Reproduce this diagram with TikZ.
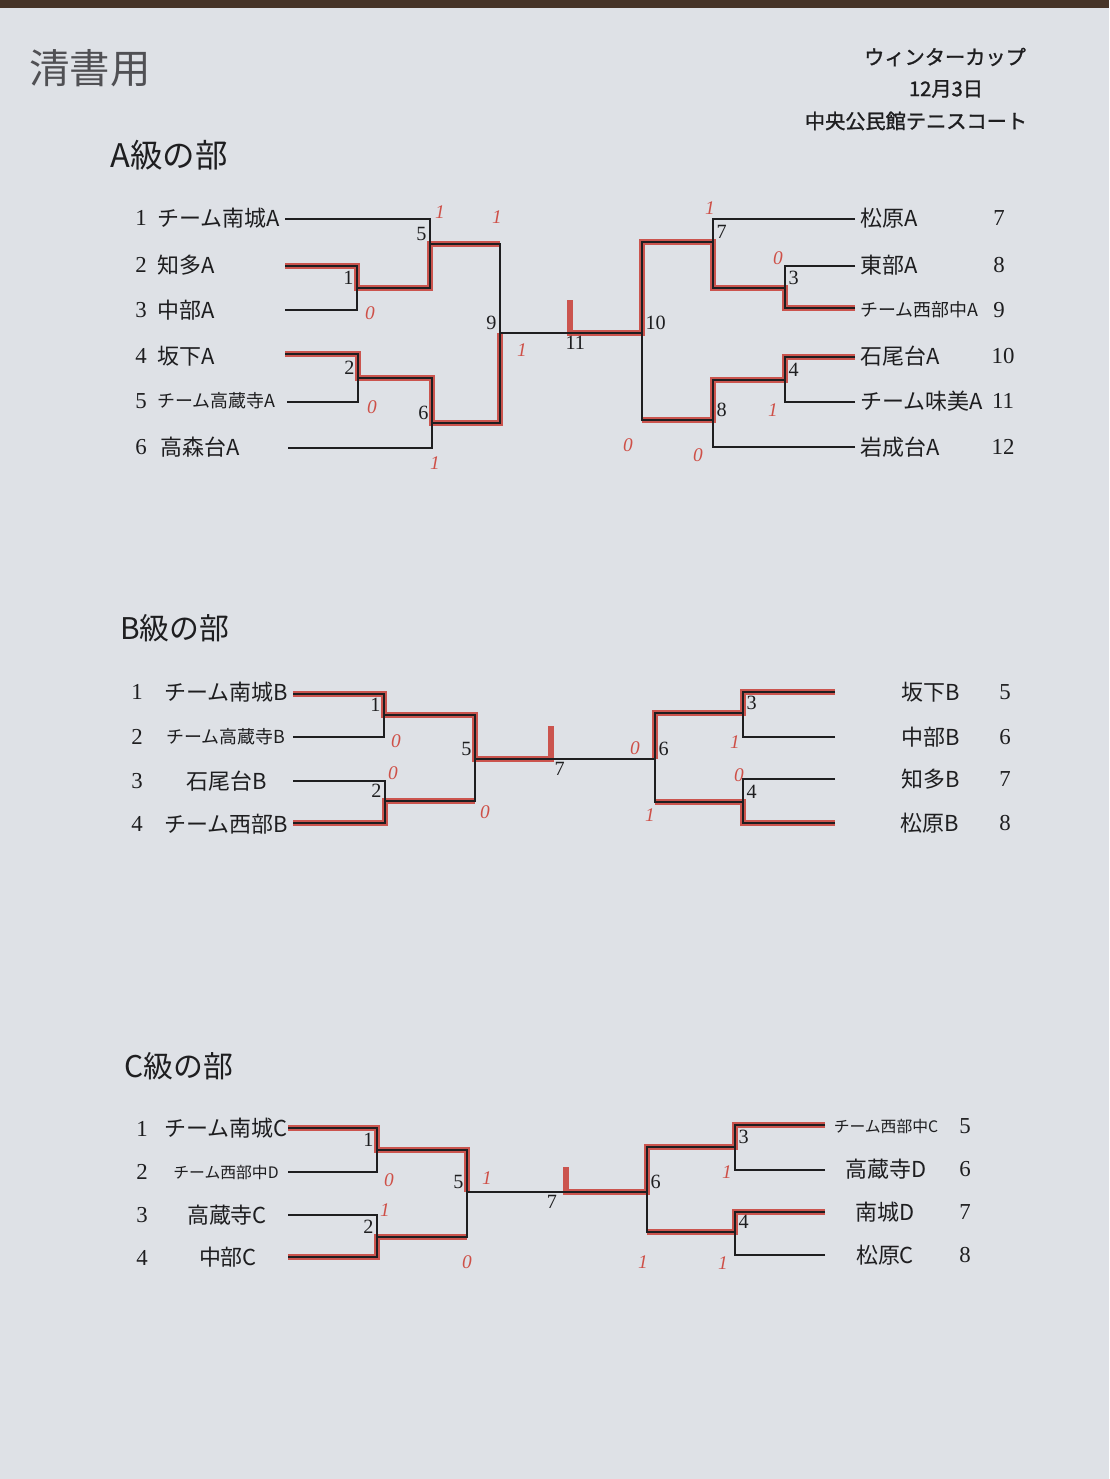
\documentclass[tikz,border=0pt]{standalone}
\usepackage{fontspec}
\setmainfont{Liberation Serif}
\newfontfamily\jp[AutoFakeBold=1.2]{Noto Sans CJK JP}
\usetikzlibrary{positioning}
\definecolor{paper}{RGB}{222,225,230}
\definecolor{board}{RGB}{70,52,40}
\definecolor{ink}{RGB}{30,30,32}
\definecolor{pen}{RGB}{200,60,52}
\definecolor{pencil}{RGB}{80,80,84}
\tikzstyle{team} = [inner sep=0pt, text=ink, font=\jp\fontsize{12.5}{14}\selectfont]
\tikzstyle{smallteam} = [team, font=\jp\fontsize{10.2}{12}\selectfont]
\tikzstyle{tinyteam} = [team, font=\jp\fontsize{9}{11}\selectfont]
\tikzstyle{seed} = [inner sep=0pt, text=ink, font=\fontsize{13}{15}\selectfont]
\tikzstyle{mlabel} = [inner sep=1.8pt, text=ink, font=\fontsize{11.5}{13}\selectfont]
\tikzstyle{heading} = [inner sep=0pt, anchor=west, text=ink, font=\jp\fontsize{17}{20}\selectfont]
\tikzstyle{info} = [inner sep=0pt, text=ink, font=\jp\bfseries\fontsize{11.5}{13}\selectfont]
\tikzstyle{score} = [inner sep=0pt, text=pen!90, font=\itshape\fontsize{11}{13}\selectfont]
\tikzstyle{line} = [draw=ink, line width=0.9pt]
\tikzstyle{win} = [draw=pen, line width=3.4pt, opacity=0.85]

\begin{document}
\begin{tikzpicture}[x=0.02cm, y=-0.02cm]
    \useasboundingbox (0,0) rectangle (1109,1479);
    \fill[paper] (0,0) rectangle (1109,1479);
    \fill[board] (0,0) rectangle (1109,8);

    % header
    \node[inner sep=0pt, text=pencil, font=\jp\fontsize{23}{26}\selectfont] (draft) at (90,68) {清書用};
    \node[info] (cup) at (945,57) {ウィンターカップ};
    \node[info] (date) at (946,89) {12月3日};
    \node[info] (court) at (916,121) {中央公民館テニスコート};

    % ---------- A ----------
    \node[heading, font=\jp\fontsize{18.5}{21}\selectfont] (headA) at (110,155) {A級の部};
    \coordinate (A1) at (285,219);  \coordinate (A2) at (285,266);
    \coordinate (A3) at (285,310);  \coordinate (A4) at (285,354);
    \coordinate (A5) at (287,402);  \coordinate (A6) at (288,448);
    \coordinate (A7) at (855,219);  \coordinate (A8) at (855,266);
    \coordinate (A9) at (855,308);  \coordinate (A10) at (855,357);
    \coordinate (A11) at (855,402); \coordinate (A12) at (855,447);
    \coordinate (Am1) at (357,288); \coordinate (Am2) at (358,378);
    \coordinate (Am5) at (430,244); \coordinate (Am6) at (432,423);
    \coordinate (Am9) at (500,333); \coordinate (Am11) at (570,333);
    \coordinate (Am10) at (642,333);
    \coordinate (Am3) at (785,288); \coordinate (Am4) at (785,380);
    \coordinate (Am7) at (713,242); \coordinate (Am8) at (713,420);

    \draw[win] (A2) -| (Am1) -| (Am5) -- (Am5 -| Am9);
    \draw[win] (A4) -| (Am2) -| (Am6) -| (Am9);
    \draw[win] (A9) -| (Am3) -| (Am7) -| (Am10) -- (Am11) -- ++(0,-33);
    \draw[win] (A10) -| (Am4) -| (Am8) -- (Am8 -| Am10);

    \foreach \a/\b in {A2/Am1, A3/Am1, A1/Am5, Am1/Am5, A4/Am2, A5/Am2, A6/Am6, Am2/Am6,
                       Am5/Am9, Am6/Am9, A8/Am3, A9/Am3, A7/Am7, Am3/Am7, A10/Am4, A11/Am4,
                       A12/Am8, Am4/Am8, Am7/Am10, Am8/Am10}
        \draw[line] (\a) -| (\b);
    \draw[line] (Am9) -- (Am10);

    \node[mlabel, anchor=south east] (lA1) at (Am1) {1};
    \node[mlabel, anchor=south east] (lA2) at (Am2) {2};
    \node[mlabel, anchor=south east] (lA5) at (Am5) {5};
    \node[mlabel, anchor=south east] (lA6) at (Am6) {6};
    \node[mlabel, anchor=south east] (lA9) at (Am9) {9};
    \node[mlabel, anchor=north] (lA11) at ([xshift=3]Am11) {11};
    \node[mlabel, anchor=south west] (lA10) at (Am10) {10};
    \node[mlabel, anchor=south west] (lA7) at (Am7) {7};
    \node[mlabel, anchor=south west] (lA3) at (Am3) {3};
    \node[mlabel, anchor=south west] (lA4) at (Am4) {4};
    \node[mlabel, anchor=south west] (lA8) at (Am8) {8};

    \foreach \n/\y in {1/218, 2/265, 3/310, 4/356, 5/401, 6/447}
        \node[seed] (sA\n) at (141,\y) {\n};
    \node[team, anchor=west] (nA1) at (157,218) {チーム南城A};
    \node[team, anchor=west] (nA2) at (157,265) {知多A};
    \node[team, anchor=west] (nA3) at (157,310) {中部A};
    \node[team, anchor=west] (nA4) at (157,356) {坂下A};
    \node[smallteam, anchor=west] (nA5) at (157,401) {チーム高蔵寺A};
    \node[team, anchor=west] (nA6) at (160,447) {高森台A};
    \node[team, anchor=west] (nA7) at (860,218) {松原A};
    \node[team, anchor=west] (nA8) at (860,265) {東部A};
    \node[smallteam, anchor=west] (nA9) at (860,310) {チーム西部中A};
    \node[team, anchor=west] (nA10) at (860,356) {石尾台A};
    \node[team, anchor=west] (nA11) at (860,401) {チーム味美A};
    \node[team, anchor=west] (nA12) at (860,447) {岩成台A};
    \foreach \n/\y in {7/218, 8/265, 9/310}
        \node[seed] (sA\n) at (999,\y) {\n};
    \foreach \n/\y in {10/356, 11/401, 12/447}
        \node[seed] (sA\n) at (1003,\y) {\n};

    % ---------- B ----------
    \node[heading] (headB) at (120,628) {B級の部};
    \coordinate (B1) at (293,694); \coordinate (B2) at (293,737);
    \coordinate (B3) at (293,781); \coordinate (B4) at (293,823);
    \coordinate (B5) at (835,692); \coordinate (B6) at (835,737);
    \coordinate (B7) at (835,779); \coordinate (B8) at (835,823);
    \coordinate (Bm1) at (384,715); \coordinate (Bm2) at (385,801);
    \coordinate (Bm5) at (475,759); \coordinate (Bm7) at (551,759);
    \coordinate (Bm6) at (655,759);
    \coordinate (Bm3) at (743,713); \coordinate (Bm4) at (743,802);

    \draw[win] (B1) -| (Bm1) -| (Bm5) -- (Bm7) -- ++(0,-33);
    \draw[win] (B4) -| (Bm2) -- (Bm2 -| Bm5);
    \draw[win] (B5) -| (Bm3) -| (Bm6);
    \draw[win] (B8) -| (Bm4) -- (Bm4 -| Bm6);

    \foreach \a/\b in {B1/Bm1, B2/Bm1, B3/Bm2, B4/Bm2, Bm1/Bm5, Bm2/Bm5,
                       B5/Bm3, B6/Bm3, B7/Bm4, B8/Bm4, Bm3/Bm6, Bm4/Bm6}
        \draw[line] (\a) -| (\b);
    \draw[line] (Bm5) -- (Bm6);

    \node[mlabel, anchor=south east] (lB1) at (Bm1) {1};
    \node[mlabel, anchor=south east] (lB2) at (Bm2) {2};
    \node[mlabel, anchor=south east] (lB5) at (Bm5) {5};
    \node[mlabel, anchor=north] (lB7) at ([xshift=5]Bm7) {7};
    \node[mlabel, anchor=south west] (lB6) at (Bm6) {6};
    \node[mlabel, anchor=south west] (lB3) at (Bm3) {3};
    \node[mlabel, anchor=south west] (lB4) at (Bm4) {4};

    \foreach \n/\y in {1/692, 2/737, 3/781, 4/824}
        \node[seed] (sB\n) at (137,\y) {\n};
    \node[team] (nB1) at (226,692) {チーム南城B};
    \node[smallteam] (nB2) at (226,737) {チーム高蔵寺B};
    \node[team] (nB3) at (227,781) {石尾台B};
    \node[team] (nB4) at (226,824) {チーム西部B};
    \node[team] (nB5) at (931,692) {坂下B};
    \node[team] (nB6) at (931,737) {中部B};
    \node[team] (nB7) at (931,779) {知多B};
    \node[team] (nB8) at (930,823) {松原B};
    \foreach \n/\y in {5/692, 6/737, 7/779, 8/823}
        \node[seed] (sB\n) at (1005,\y) {\n};

    % ---------- C ----------
    \node[heading] (headC) at (124,1066) {C級の部};
    \coordinate (C1) at (288,1128); \coordinate (C2) at (288,1172);
    \coordinate (C3) at (288,1215); \coordinate (C4) at (288,1257);
    \coordinate (C5) at (825,1125); \coordinate (C6) at (825,1170);
    \coordinate (C7) at (825,1212); \coordinate (C8) at (825,1255);
    \coordinate (Cm1) at (377,1150); \coordinate (Cm2) at (377,1237);
    \coordinate (Cm5) at (467,1192); \coordinate (Cm7) at (566,1192);
    \coordinate (Cm6) at (647,1192);
    \coordinate (Cm3) at (735,1147); \coordinate (Cm4) at (735,1232);

    \draw[win] (C1) -| (Cm1) -| (Cm5);
    \draw[win] (C4) -| (Cm2) -- (Cm2 -| Cm5);
    \draw[win] (C5) -| (Cm3) -| (Cm6) -- (Cm7) -- ++(0,-25);
    \draw[win] (C7) -| (Cm4) -- (Cm4 -| Cm6);

    \foreach \a/\b in {C1/Cm1, C2/Cm1, C3/Cm2, C4/Cm2, Cm1/Cm5, Cm2/Cm5,
                       C5/Cm3, C6/Cm3, C7/Cm4, C8/Cm4, Cm3/Cm6, Cm4/Cm6}
        \draw[line] (\a) -| (\b);
    \draw[line] (Cm5) -- (Cm6);

    \node[mlabel, anchor=south east] (lC1) at (Cm1) {1};
    \node[mlabel, anchor=south east] (lC2) at (Cm2) {2};
    \node[mlabel, anchor=south east] (lC5) at (Cm5) {5};
    \node[mlabel, anchor=north] (lC7) at ([xshift=-8]Cm7) {7};
    \node[mlabel, anchor=south west] (lC6) at (Cm6) {6};
    \node[mlabel, anchor=south west] (lC3) at (Cm3) {3};
    \node[mlabel, anchor=south west] (lC4) at (Cm4) {4};

    \foreach \n/\y in {1/1129, 2/1172, 3/1215, 4/1258}
        \node[seed] (sC\n) at (142,\y) {\n};
    \node[team] (nC1) at (226,1128) {チーム南城C};
    \node[tinyteam] (nC2) at (226,1172) {チーム西部中D};
    \node[team] (nC3) at (227,1215) {高蔵寺C};
    \node[team] (nC4) at (228,1257) {中部C};
    \node[tinyteam] (nC5) at (886,1126) {チーム西部中C};
    \node[team] (nC6) at (886,1169) {高蔵寺D};
    \node[team] (nC7) at (885,1212) {南城D};
    \node[team] (nC8) at (885,1255) {松原C};
    \foreach \n/\y in {5/1126, 6/1169, 7/1212, 8/1255}
        \node[seed] (sC\n) at (965,\y) {\n};

    % handwritten scores
    \foreach \x/\y/\s in {440/212/1, 497/217/1, 370/313/0, 372/407/0, 522/350/1, 435/463/1,
                          710/208/1, 778/258/0, 773/410/1, 628/445/0, 698/455/0,
                          396/741/0, 393/773/0, 485/812/0, 635/748/0, 735/742/1, 739/775/0, 650/815/1,
                          389/1180/0, 385/1210/1, 487/1178/1, 467/1262/0, 727/1172/1, 643/1262/1, 723/1263/1}
        \node[score] (sc-\x-\y) at (\x,\y) {\s};
\end{tikzpicture}
\end{document}
